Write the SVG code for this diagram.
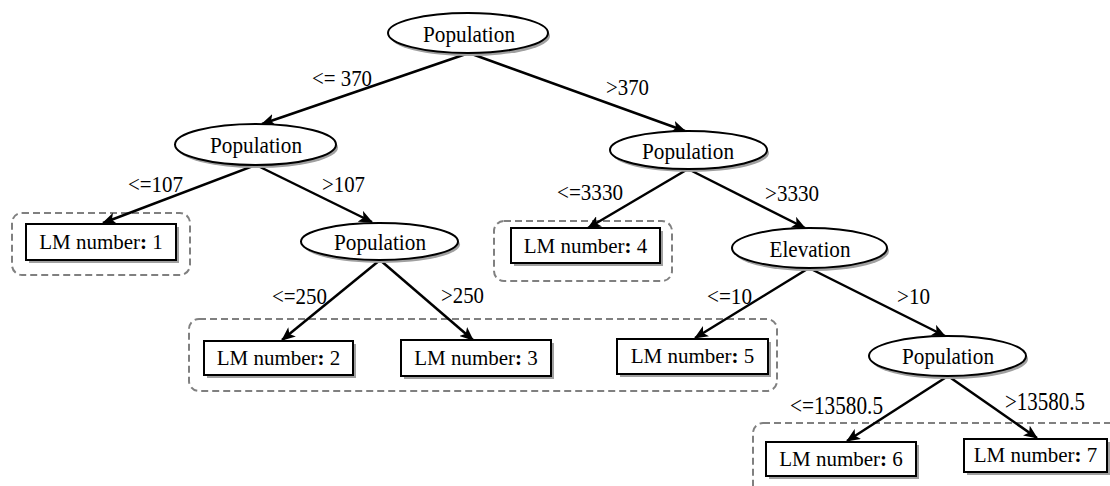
<svg xmlns="http://www.w3.org/2000/svg" width="1110" height="486" viewBox="0 0 1110 486">
<style>
text{font-family:"Liberation Serif","Times New Roman",serif;font-size:23px;fill:#000}
.c{text-anchor:middle}
.lm{font-size:21px}
.b{font-weight:bold}
.el{fill:#fff;stroke:#000;stroke-width:2}
.sh{fill:#a0a0a0;stroke:none}
.bx{fill:#fff;stroke:#000;stroke-width:2}
.grp{fill:none;stroke:#808080;stroke-width:2;stroke-dasharray:7,4}
.edge{stroke:#000;stroke-width:2.5;fill:none;marker-end:url(#ar)}
.big{font-size:25.5px}
</style>
<defs>
<marker id="ar" markerUnits="userSpaceOnUse" markerWidth="14" markerHeight="12" refX="13" refY="6" orient="auto">
<path d="M0,0 L14,6 L0,12 L3.5,6 z" fill="#000"/>
</marker>
</defs>

<g id="groups">
<rect class="grp" x="12" y="213" width="178" height="62" rx="10"/>
<rect class="grp" x="494" y="221" width="178" height="60" rx="10"/>
<rect class="grp" x="189" y="319" width="588" height="72" rx="10"/>
<rect class="grp" x="753" y="423" width="400" height="100" rx="10"/>
</g>

<g id="connectors">
<line class="edge" x1="469" y1="53" x2="262" y2="124"/>
<line class="edge" x1="469" y1="53" x2="685" y2="131"/>
<line class="edge" x1="256" y1="165" x2="103" y2="223"/>
<line class="edge" x1="256" y1="165" x2="372" y2="222"/>
<line class="edge" x1="380" y1="260" x2="282" y2="340"/>
<line class="edge" x1="380" y1="260" x2="473" y2="340"/>
<line class="edge" x1="688" y1="169" x2="588" y2="228"/>
<line class="edge" x1="688" y1="169" x2="805" y2="228"/>
<line class="edge" x1="809" y1="268" x2="695" y2="338"/>
<line class="edge" x1="809" y1="268" x2="945" y2="336"/>
<line class="edge" x1="948" y1="376" x2="847" y2="441"/>
<line class="edge" x1="948" y1="376" x2="1037" y2="438"/>
</g>

<g id="edge-labels">
<text x="312" y="86" textLength="60" lengthAdjust="spacingAndGlyphs">&lt;= 370</text>
<text x="606" y="95" textLength="43" lengthAdjust="spacingAndGlyphs">&gt;370</text>
<text x="128" y="192" textLength="55" lengthAdjust="spacingAndGlyphs">&lt;=107</text>
<text x="322" y="192" textLength="43" lengthAdjust="spacingAndGlyphs">&gt;107</text>
<text x="557" y="200" textLength="66" lengthAdjust="spacingAndGlyphs">&lt;=3330</text>
<text x="765" y="201" textLength="54" lengthAdjust="spacingAndGlyphs">&gt;3330</text>
<text x="272" y="304" textLength="55" lengthAdjust="spacingAndGlyphs">&lt;=250</text>
<text x="441" y="303" textLength="43" lengthAdjust="spacingAndGlyphs">&gt;250</text>
<text x="707" y="304" textLength="45" lengthAdjust="spacingAndGlyphs">&lt;=10</text>
<text x="897" y="304" textLength="33" lengthAdjust="spacingAndGlyphs">&gt;10</text>
<text class="big" x="790" y="414" textLength="93" lengthAdjust="spacingAndGlyphs">&lt;=13580.5</text>
<text class="big" x="1005" y="410" textLength="80" lengthAdjust="spacingAndGlyphs">&gt;13580.5</text>
</g>

<g id="n-root">
<ellipse class="sh" cx="470" cy="36" rx="80" ry="20"/>
<ellipse class="el" cx="468" cy="33" rx="80" ry="20"/>
<text class="c" x="469" y="42" textLength="92" lengthAdjust="spacingAndGlyphs">Population</text>
</g>
<g id="n-pop-l1">
<ellipse class="sh" cx="257.5" cy="147.5" rx="80.5" ry="20.5"/>
<ellipse class="el" cx="255.5" cy="144.5" rx="80.5" ry="20.5"/>
<text class="c" x="256" y="153" textLength="92" lengthAdjust="spacingAndGlyphs">Population</text>
</g>
<g id="n-pop-r1">
<ellipse class="sh" cx="690.5" cy="153" rx="78.5" ry="19"/>
<ellipse class="el" cx="688.5" cy="150" rx="78.5" ry="19"/>
<text class="c" x="688" y="159" textLength="92" lengthAdjust="spacingAndGlyphs">Population</text>
</g>
<g id="n-pop-2">
<ellipse class="sh" cx="381.5" cy="244.5" rx="78.5" ry="18.5"/>
<ellipse class="el" cx="379.5" cy="241.5" rx="78.5" ry="18.5"/>
<text class="c" x="380" y="250" textLength="92" lengthAdjust="spacingAndGlyphs">Population</text>
</g>
<g id="n-elev">
<ellipse class="sh" cx="811.5" cy="251" rx="77.5" ry="20"/>
<ellipse class="el" cx="809.5" cy="248" rx="77.5" ry="20"/>
<text class="c" x="810" y="257" textLength="81" lengthAdjust="spacingAndGlyphs">Elevation</text>
</g>
<g id="n-pop-r3">
<ellipse class="sh" cx="949.5" cy="359" rx="78.5" ry="20"/>
<ellipse class="el" cx="947.5" cy="356" rx="78.5" ry="20"/>
<text class="c" x="948" y="364" textLength="92" lengthAdjust="spacingAndGlyphs">Population</text>
</g>

<g id="lm1">
<rect class="sh" x="29" y="227" width="150" height="36"/>
<rect class="bx" x="26" y="224" width="150" height="36"/>
<text class="c lm" x="101" y="249">LM number<tspan class="b">:</tspan> 1</text>
</g>
<g id="lm2">
<rect class="sh" x="207" y="344" width="149" height="34"/>
<rect class="bx" x="204" y="341" width="149" height="34"/>
<text class="c lm" x="278.5" y="365">LM number<tspan class="b">:</tspan> 2</text>
</g>
<g id="lm3">
<rect class="sh" x="404" y="343" width="150" height="36"/>
<rect class="bx" x="401" y="340" width="150" height="36"/>
<text class="c lm" x="476" y="365">LM number<tspan class="b">:</tspan> 3</text>
</g>
<g id="lm4">
<rect class="sh" x="514" y="231" width="149" height="35"/>
<rect class="bx" x="511" y="228" width="149" height="35"/>
<text class="c lm" x="585.5" y="253">LM number<tspan class="b">:</tspan> 4</text>
</g>
<g id="lm5">
<rect class="sh" x="620" y="342" width="151" height="35"/>
<rect class="bx" x="617" y="339" width="151" height="35"/>
<text class="c lm" x="692.5" y="363">LM number<tspan class="b">:</tspan> 5</text>
</g>
<g id="lm6">
<rect class="sh" x="769" y="445" width="150" height="34"/>
<rect class="bx" x="766" y="442" width="150" height="34"/>
<text class="c lm" x="841" y="466">LM number<tspan class="b">:</tspan> 6</text>
</g>
<g id="lm7">
<rect class="sh" x="967" y="442" width="143" height="33"/>
<rect class="bx" x="964" y="439" width="143" height="33"/>
<text class="c lm" x="1035.5" y="462">LM number<tspan class="b">:</tspan> 7</text>
</g>
</svg>
